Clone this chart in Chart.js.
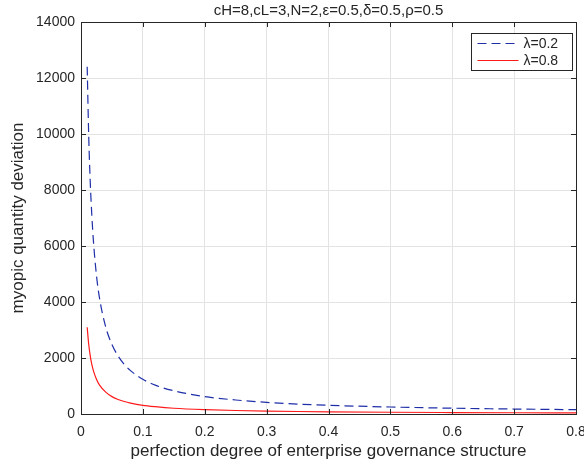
<!DOCTYPE html>
<html>
<head>
<meta charset="utf-8">
<script src="https://cdn.jsdelivr.net/npm/chart.js@4"></script>
<style>
  html, body { margin: 0; padding: 0; background: #ffffff; }
  #wrap { width: 584px; height: 466px; }
</style>
</head>
<body>
<div id="wrap"><canvas id="chart" width="584" height="466"></canvas></div>
<script>
// values
const governance = [0.01, 0.0125, 0.015, 0.0175, 0.02, 0.025, 0.03, 0.04, 0.05, 0.06, 0.07, 0.08, 0.1, 0.12, 0.15, 0.2, 0.25, 0.3, 0.35, 0.4, 0.5, 0.6, 0.7, 0.8];
const lambda02 = [12400, 9900, 8250, 7100, 6200, 4950, 4130, 3100, 2480, 2070, 1770, 1550, 1240, 1030, 830, 620, 500, 415, 355, 310, 250, 207, 177, 155];
const lambda08 = [3100, 2480, 2070, 1770, 1550, 1240, 1030, 780, 620, 520, 445, 390, 310, 260, 205, 155, 125, 105, 90, 78, 62, 52, 44, 39];
const seriesNames = ['λ=0.2', 'λ=0.8'];
const xTicks = [0, 0.1, 0.2, 0.3, 0.4, 0.5, 0.6, 0.7, 0.8];
const yTicks = [0, 2000, 4000, 6000, 8000, 10000, 12000, 14000];
const titleText = 'cH=8,cL=3,N=2,ε=0.5,δ=0.5,ρ=0.5';

const FONT = '"Liberation Sans", Arial, sans-serif';
const TEXT = '#262626';

function toPoints(ys) {
    return governance.map((x, i) => ({ x: x, y: ys[i] }));
}

// box round the plot, inward tick marks, title over the axes and the boxed legend, as matlab draws them
const matlabFrame = {
    id: 'matlabFrame',
    afterDraw(chart) {
        const ctx = chart.ctx;
        const a = chart.chartArea;
        const xs = chart.scales.x;
        const ys = chart.scales.y;
        ctx.save();
        ctx.strokeStyle = '#262626';
        ctx.lineWidth = 1;
        ctx.strokeRect(Math.round(a.left) + 0.5, Math.round(a.top) + 0.5,
            Math.round(a.right - a.left), Math.round(a.bottom - a.top));

        ctx.beginPath();
        xTicks.forEach(v => {
            const px = Math.round(xs.getPixelForValue(v)) + 0.5;
            ctx.moveTo(px, a.bottom); ctx.lineTo(px, a.bottom - 5);
            ctx.moveTo(px, a.top); ctx.lineTo(px, a.top + 5);
        });
        yTicks.forEach(v => {
            const py = Math.round(ys.getPixelForValue(v)) + 0.5;
            ctx.moveTo(a.left, py); ctx.lineTo(a.left + 5, py);
            ctx.moveTo(a.right, py); ctx.lineTo(a.right - 5, py);
        });
        ctx.stroke();

        // title, centred on the axes
        ctx.fillStyle = TEXT;
        ctx.font = '15px ' + FONT;
        ctx.textAlign = 'center';
        ctx.textBaseline = 'middle';
        ctx.fillText(titleText, (a.left + a.right) / 2, 11);

        // legend
        const bx = 471.5, by = 33.5, bw = 101, bh = 37;
        ctx.fillStyle = '#ffffff';
        ctx.fillRect(bx, by, bw, bh);
        ctx.strokeRect(bx, by, bw, bh);
        ctx.font = '14px ' + FONT;
        ctx.textAlign = 'left';
        chart.data.datasets.forEach((ds, i) => {
            const ly = by + 10 + i * 17;
            ctx.beginPath();
            ctx.strokeStyle = ds.borderColor;
            ctx.setLineDash(ds.borderDash || []);
            ctx.moveTo(bx + 6, ly);
            ctx.lineTo(bx + 47, ly);
            ctx.stroke();
            ctx.setLineDash([]);
            ctx.fillStyle = TEXT;
            ctx.fillText(ds.label, bx + 52, ly + 1);
        });
        ctx.restore();
    }
};

new Chart(document.getElementById('chart'), {
    type: 'line',
    data: {
        datasets: [
            {
                label: seriesNames[0],
                data: toPoints(lambda02),
                borderColor: '#1f2fa8',
                borderWidth: 1.2,
                borderDash: [9, 5],
                pointRadius: 0,
                cubicInterpolationMode: 'monotone',
                fill: false
            },
            {
                label: seriesNames[1],
                data: toPoints(lambda08),
                borderColor: '#ff1a1a',
                borderWidth: 1.2,
                pointRadius: 0,
                cubicInterpolationMode: 'monotone',
                fill: false
            }
        ]
    },
    options: {
        responsive: false,
        animation: false,
        layout: { padding: { left: 0, right: 8, top: 22, bottom: 0 } },
        plugins: {
            legend: { display: false },
            tooltip: { enabled: false },
            title: { display: false }
        },
        scales: {
            x: {
                type: 'linear',
                min: 0,
                max: 0.8,
                afterBuildTicks: s => { s.ticks = xTicks.map(v => ({ value: v })); },
                afterFit: s => { s.height = 52; s.paddingRight = 0; s.paddingLeft = 0; },
                grid: { color: '#e3e3e3', drawTicks: false },
                border: { display: false },
                ticks: {
                    color: TEXT,
                    padding: 10,
                    maxRotation: 0,
                    font: { family: FONT, size: 14 },
                    callback: v => String(Math.round(v * 10) / 10)
                },
                title: {
                    display: true,
                    text: 'perfection degree of enterprise governance structure',
                    color: TEXT,
                    font: { family: FONT, size: 17 },
                    padding: { top: 2, bottom: 4 }
                }
            },
            y: {
                min: 0,
                max: 14000,
                afterBuildTicks: s => { s.ticks = yTicks.map(v => ({ value: v })); },
                afterFit: s => { s.width = 81; },
                grid: { color: '#e3e3e3', drawTicks: false },
                border: { display: false },
                ticks: {
                    color: TEXT,
                    padding: 6,
                    font: { family: FONT, size: 14 },
                    callback: v => String(v)
                },
                title: {
                    display: true,
                    text: 'myopic quantity deviation',
                    color: TEXT,
                    font: { family: FONT, size: 17 },
                    padding: { top: 8, bottom: 0 }
                }
            }
        }
    },
    plugins: [matlabFrame]
});
</script>
</body>
</html>
